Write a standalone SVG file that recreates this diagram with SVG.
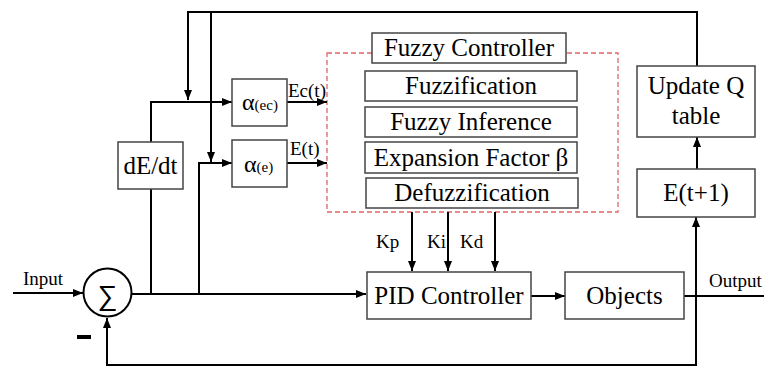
<svg xmlns="http://www.w3.org/2000/svg" width="764" height="367" viewBox="0 0 764 367">
<style>
.box{fill:#fff;stroke:#444;stroke-width:1.5}
.t{font-family:"Liberation Serif","Times New Roman",serif;fill:#000}
.big{font-size:25px}
.sm{font-size:19px}
.ln{fill:none;stroke:#000;stroke-width:2}
</style>
<defs>
<marker id="ah" viewBox="0 0 10 8" refX="10" refY="4" markerWidth="10" markerHeight="8" markerUnits="userSpaceOnUse" orient="auto">
<path d="M0,0 L10,4 L0,8 Z" fill="#000"/>
</marker>
</defs>
<rect width="764" height="367" fill="#fff"/>
<rect x="327" y="53" width="291" height="159" fill="none" stroke="#e06666" stroke-width="1.3" stroke-dasharray="5,3"/>
<g id="connectors">
<path class="ln" d="M697,66 V12 H188 V100" marker-end="url(#ah)"/>
<path class="ln" d="M211,12 V162" marker-end="url(#ah)"/>
<path class="ln" d="M13,293 H83" marker-end="url(#ah)"/>
<path class="ln" d="M132,294 H366" marker-end="url(#ah)"/>
<path class="ln" d="M151,294 V189"/>
<path class="ln" d="M151,142 V102 H232" marker-end="url(#ah)"/>
<path class="ln" d="M199,294 V163 H232" marker-end="url(#ah)"/>
<path class="ln" d="M287,102 H327" marker-end="url(#ah)"/>
<path class="ln" d="M287,163 H327" marker-end="url(#ah)"/>
<path class="ln" d="M412,212 V271" marker-end="url(#ah)"/>
<path class="ln" d="M448,212 V271" marker-end="url(#ah)"/>
<path class="ln" d="M495,212 V271" marker-end="url(#ah)"/>
<path class="ln" d="M531,296 H565" marker-end="url(#ah)"/>
<path class="ln" d="M684,296 H764"/>
<path class="ln" d="M696,366 V217" marker-end="url(#ah)"/>
<path class="ln" d="M697,169 V137" marker-end="url(#ah)"/>
<path class="ln" d="M696,365 H107 V318" marker-end="url(#ah)"/>
</g>
<g id="sum">
<circle cx="107.5" cy="292.5" r="24" fill="#fff" stroke="#000" stroke-width="2"/>
<text class="t" x="107.5" y="305" text-anchor="middle" style="font-family:'Liberation Sans',Arial,sans-serif;font-size:28px">∑</text>
</g>
<rect x="77" y="335" width="14" height="4" fill="#000"/>
<text class="t sm" x="23" y="285">Input</text>
<g id="dEdt"><rect class="box" x="118" y="142" width="65" height="47"/><text class="t big" x="150.5" y="174" text-anchor="middle">dE/dt</text></g>
<g id="aec"><rect class="box" x="232" y="79" width="55" height="47"/><text class="t" x="242" y="110"><tspan font-size="24">α</tspan><tspan font-size="15">(ec)</tspan></text></g>
<g id="ae"><rect class="box" x="232" y="140" width="55" height="47"/><text class="t" x="244" y="172"><tspan font-size="24">α</tspan><tspan font-size="15">(e)</tspan></text></g>
<text class="t sm" x="288" y="97">Ec(t)</text>
<text class="t sm" x="290" y="155">E(t)</text>
<g id="fc"><rect class="box" x="372" y="33" width="194" height="30"/><text class="t big" x="469" y="56" text-anchor="middle">Fuzzy Controller</text></g>
<g id="fuzz"><rect class="box" x="365" y="71" width="212" height="30"/><text class="t big" x="471" y="94" text-anchor="middle">Fuzzification</text></g>
<g id="inf"><rect class="box" x="365" y="107" width="212" height="30"/><text class="t big" x="471" y="130" text-anchor="middle">Fuzzy Inference</text></g>
<g id="exp"><rect class="box" x="365" y="142" width="212" height="31"/><text class="t big" x="471" y="166" text-anchor="middle">Expansion Factor β</text></g>
<g id="defuzz"><rect class="box" x="366" y="178" width="212" height="30"/><text class="t big" x="472" y="201" text-anchor="middle">Defuzzification</text></g>
<text class="t sm" x="376" y="248">Kp</text>
<text class="t sm" x="427" y="248">Ki</text>
<text class="t sm" x="460" y="248">Kd</text>
<g id="pid"><rect class="box" x="367" y="272" width="164" height="47"/><text class="t big" x="449" y="304" text-anchor="middle">PID Controller</text></g>
<g id="obj"><rect class="box" x="565" y="272" width="119" height="47"/><text class="t big" x="624.5" y="304" text-anchor="middle">Objects</text></g>
<text class="t sm" x="709" y="287">Output</text>
<g id="upd"><rect class="box" x="637" y="66" width="118" height="71"/><text class="t big" x="696" y="94" text-anchor="middle">Update Q</text><text class="t big" x="696" y="124" text-anchor="middle">table</text></g>
<g id="et1"><rect class="box" x="637" y="169" width="118" height="48"/><text class="t big" x="696" y="201" text-anchor="middle">E(t+1)</text></g>
</svg>
